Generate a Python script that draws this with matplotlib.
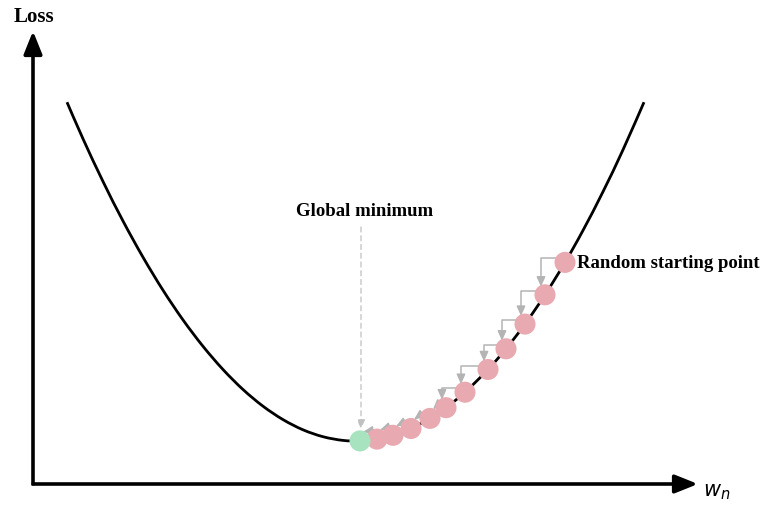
import matplotlib
matplotlib.use("Agg")
import matplotlib.pyplot as plt
import numpy as np
from matplotlib.path import Path
from matplotlib.patches import PathPatch

# ---- data (in axis units: w right of origin, loss above origin)
curve_w = [34, 50, 70, 90, 110, 130, 150, 170, 190, 210, 230, 250, 270, 290, 310,
           327, 344, 360, 378, 397, 413, 432, 455, 473, 492, 512, 532, 550, 570, 590, 611]
curve_loss = [381.8, 345.2, 302.5, 263.0, 226.8, 193.8, 164.1, 137.7, 114.5, 94.5,
              77.8, 64.4, 54.2, 47.3, 43.6, 43.1, 44.9, 48.7, 55.5, 65.6, 76.3,
              91.8, 114.5, 135.2, 159.9, 189.2, 221.6, 253.6, 292.3, 334.2, 381.8]

step_w = [532, 512, 492, 473, 455, 432, 413, 397, 378, 360, 344]
step_loss = [221.6, 189.2, 159.9, 135.2, 114.5, 91.8, 76.3, 65.6, 55.5, 48.7, 44.9]

min_w, min_loss = 327, 43.1

label_min = "Global minimum"
label_start = "Random starting point"
label_y = "Loss"
label_x = r"$w_n$"

# ---- figure
fig = plt.figure(figsize=(7.6, 5.06), dpi=100)
ax = fig.add_axes([0, 0, 1, 1])
ax.set_xlim(-33, 727)
ax.set_ylim(-21, 485)
ax.axis("off")

# axes arrows
ax_kw = dict(arrowstyle="-|>,head_length=0.7,head_width=0.28", lw=2.6, color="black",
             shrinkA=0, shrinkB=0, mutation_scale=20, capstyle="butt")
ax.annotate("", xy=(0, 453), xytext=(0, -1.3), arrowprops=ax_kw)
ax.annotate("", xy=(665, 0), xytext=(-1.3, 0), arrowprops=ax_kw)

ax.text(-19, 468, label_y, fontsize=15, fontweight="bold", family="Liberation Serif",
        ha="left", va="center")
ax.text(670, -7, label_x, fontsize=15, ha="left", va="center")

# smooth curve through read points (Catmull-Rom -> cubic Bezier)
P = np.column_stack([curve_w, curve_loss]).astype(float)
verts = [P[0]]
codes = [Path.MOVETO]
for i in range(len(P) - 1):
    p0 = P[i - 1] if i > 0 else P[i]
    p1, p2 = P[i], P[i + 1]
    p3 = P[i + 2] if i + 2 < len(P) else P[i + 1]
    c1 = p1 + (p2 - p0) / 6.0
    c2 = p2 - (p3 - p1) / 6.0
    verts += [c1, c2, p2]
    codes += [Path.CURVE4] * 3
ax.add_patch(PathPatch(Path(verts, codes), fill=False, lw=2.0, color="black",
                       capstyle="butt", zorder=2))

# gradient-step arrows
gray = "#b4b4b4"
targets_w = step_w[1:] + [min_w]
targets_l = step_loss[1:] + [min_loss]
for w0, l0, w1, l1 in zip(step_w, step_loss, targets_w, targets_l):
    drop = l0 - l1
    if drop >= 14:
        ax.annotate("", xy=(w1 - 4, l1 + 8), xytext=(w0, l0 + 4),
                    arrowprops=dict(arrowstyle="-|>,head_length=0.45,head_width=0.2",
                                    color=gray, lw=1.1, shrinkA=0, shrinkB=0,
                                    mutation_scale=13,
                                    connectionstyle="angle,angleA=0,angleB=90,rad=0"),
                    zorder=3)
    else:
        ax.annotate("", xy=(w1 + 3, l1 + 9), xytext=(w0 - 2, l0 + 9),
                    arrowprops=dict(arrowstyle="-|>,head_length=0.45,head_width=0.2",
                                    color=gray, lw=1.1, shrinkA=0, shrinkB=0,
                                    mutation_scale=13),
                    zorder=3)

# global minimum dashed pointer
ax.annotate("", xy=(min_w + 1, min_loss + 12), xytext=(min_w + 1, 257),
            arrowprops=dict(arrowstyle="-|>,head_length=0.45,head_width=0.2",
                            color="#c0c0c0", lw=0.9, linestyle=(0, (4, 3)),
                            shrinkA=0, shrinkB=0, mutation_scale=12),
            zorder=3)

# points
ax.scatter(step_w, step_loss, s=230, color="#e8a9b0", edgecolors="none", zorder=4)
ax.scatter([min_w], [min_loss], s=230, color="#a8e3c0", edgecolors="none", zorder=4)

ax.text(min_w + 5, 273, label_min, fontsize=13.5, fontweight="bold",
        family="Liberation Serif", ha="center", va="center")
ax.text(544, 222, label_start, fontsize=13.5, fontweight="bold",
        family="Liberation Serif", ha="left", va="center")

fig.savefig("out.png", dpi=100)
